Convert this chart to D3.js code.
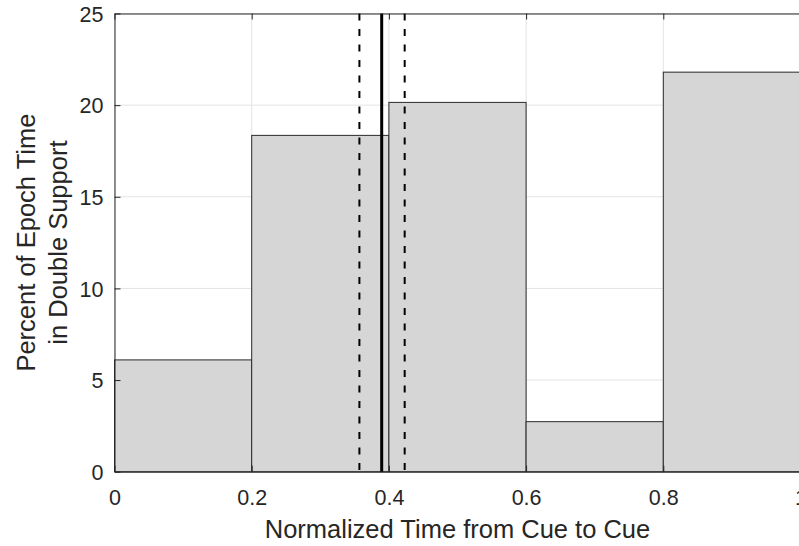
<!DOCTYPE html>
<html>
<head>
<meta charset="utf-8">
<script src="https://cdn.jsdelivr.net/npm/d3@7"></script>
<style>
  body { margin: 0; background: #fff; }
  svg { display: block; font-family: "Liberation Sans", Arial, sans-serif; }
</style>
</head>
<body>
<svg id="chart" width="799" height="546"></svg>
<script>
// histogram bins (left edges) and bar heights in percent
var binEdges = [0, 0.2, 0.4, 0.6, 0.8, 1.0]
var percents = [6.1, 18.35, 20.15, 2.73, 21.8]
// mean and spread markers
var meanLine = 0.3895
var spreadLines = [0.357, 0.423]
var xTicks = [0, 0.2, 0.4, 0.6, 0.8, 1]
var yTicks = [0, 5, 10, 15, 20, 25]

var margin = {left: 114.5, top: 13.5}
var width = 686, height = 458.2
var axisColor = "#262626"

var svg = d3.select("#chart")
var g = svg.append("g")
    .attr("transform", "translate(" + margin.left + "," + margin.top + ")")

var x = d3.scaleLinear().domain([0, 1]).range([0, width])
var y = d3.scaleLinear().domain([0, 25]).range([height, 0])

/* grid */
g.append("g").selectAll("line")
    .data(xTicks)
  .enter().append("line")
    .attr("x1", function(d){ return x(d) }).attr("x2", function(d){ return x(d) })
    .attr("y1", 0).attr("y2", height)
    .attr("stroke", "#e3e3e3").attr("stroke-width", 1)
g.append("g").selectAll("line")
    .data(yTicks)
  .enter().append("line")
    .attr("y1", function(d){ return y(d) }).attr("y2", function(d){ return y(d) })
    .attr("x1", 0).attr("x2", width)
    .attr("stroke", "#e3e3e3").attr("stroke-width", 1)

/* bars */
var bins = percents.map(function(p, i){ return {x0: binEdges[i], x1: binEdges[i + 1], value: p} })
g.append("g").selectAll("rect")
    .data(bins)
  .enter().append("rect")
    .attr("x", function(d){ return x(d.x0) })
    .attr("width", function(d){ return x(d.x1) - x(d.x0) })
    .attr("y", function(d){ return y(d.value) })
    .attr("height", function(d){ return y(0) - y(d.value) })
    .attr("fill", "#d6d6d6")
    .attr("stroke", "#2a2a2a")
    .attr("stroke-width", 1)

/* marker lines */
g.append("g").selectAll("line")
    .data(spreadLines)
  .enter().append("line")
    .attr("x1", function(d){ return x(d) }).attr("x2", function(d){ return x(d) })
    .attr("y1", 0).attr("y2", height)
    .attr("stroke", "#000").attr("stroke-width", 2)
    .attr("stroke-dasharray", "7,8.5")
g.append("line")
    .attr("x1", x(meanLine)).attr("x2", x(meanLine))
    .attr("y1", 0).attr("y2", height)
    .attr("stroke", "#000").attr("stroke-width", 3)

/* axes */
var xAxis = d3.axisBottom(x).tickValues(xTicks).tickFormat(d3.format("")).tickSizeInner(-6).tickSizeOuter(0).tickPadding(18)
var yAxis = d3.axisLeft(y).tickValues(yTicks).tickFormat(d3.format("")).tickSizeInner(-6).tickSizeOuter(0).tickPadding(11)
var xTop = d3.axisTop(x).tickValues(xTicks).tickFormat("").tickSizeInner(-6).tickSizeOuter(0)

g.append("g").attr("class", "x-axis").attr("transform", "translate(0," + height + ")").call(xAxis)
g.append("g").attr("class", "y-axis").call(yAxis)
g.append("g").attr("class", "x-top").call(xTop)

g.selectAll(".x-axis, .y-axis, .x-top").selectAll("path, line").attr("stroke", axisColor)
g.selectAll(".x-axis text, .y-axis text")
    .attr("fill", axisColor)
    .attr("font-size", 21.5)
    .attr("font-family", "Liberation Sans, Arial, sans-serif")
g.selectAll(".y-axis text").attr("dy", "0.36em")

/* labels */
svg.append("text")
    .attr("x", margin.left + width / 2)
    .attr("y", 538)
    .attr("text-anchor", "middle")
    .attr("font-size", 25.5)
    .attr("fill", axisColor)
    .text("Normalized Time from Cue to Cue")

var yLabel = svg.append("text")
    .attr("transform", "translate(0," + (margin.top + height / 2) + ") rotate(-90)")
    .attr("text-anchor", "middle")
    .attr("font-size", 25.5)
    .attr("fill", axisColor)
yLabel.append("tspan").attr("x", 0).attr("y", 35).text("Percent of Epoch Time")
yLabel.append("tspan").attr("x", 0).attr("y", 67).text("in Double Support")
</script>
</body>
</html>
